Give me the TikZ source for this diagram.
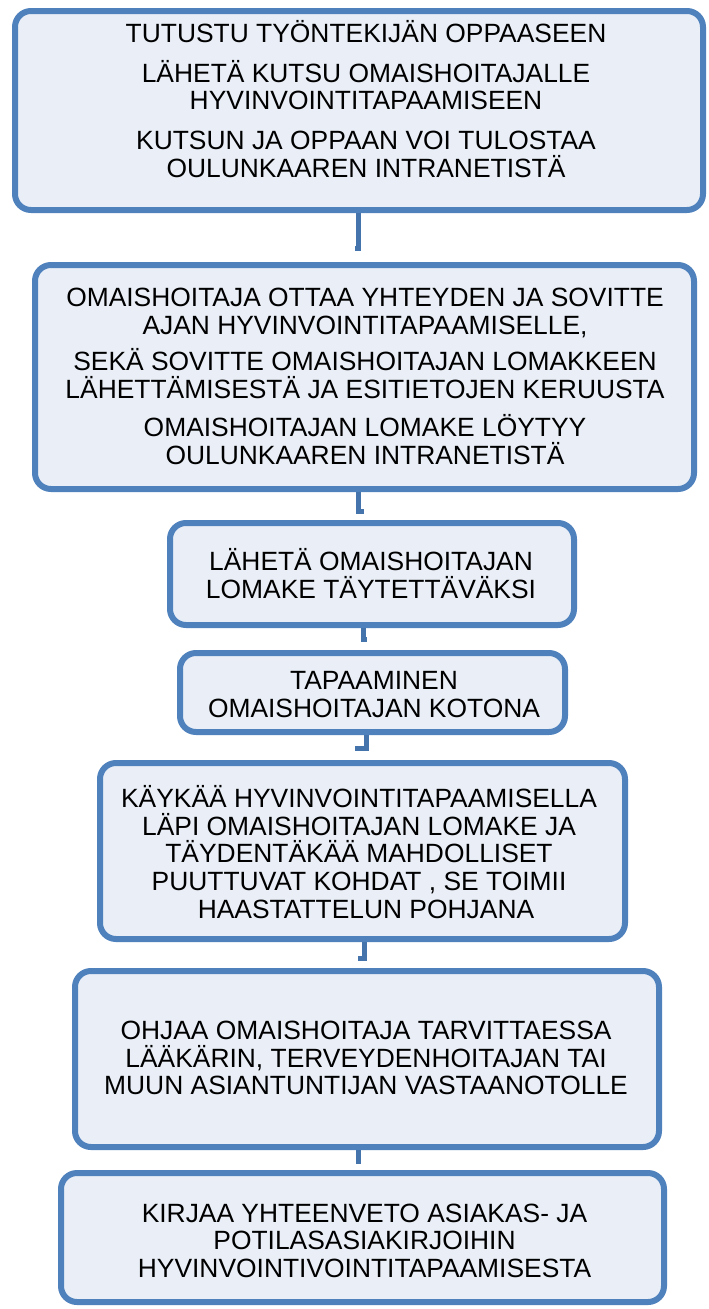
\documentclass[tikz,border=0pt]{standalone}
\usepackage{fontspec}
\setmainfont{Liberation Sans}
\usepackage{tikz}
\definecolor{boxblue}{HTML}{4F81BD}
\definecolor{boxfill}{HTML}{EAEFF7}
\definecolor{linkblue}{HTML}{4573AC}

\begin{document}
\begin{tikzpicture}[x=1pt, y=-1pt,
  box/.style={draw=boxblue, fill=boxfill, line width=6pt, rounded corners=16pt, inner sep=0pt},
  txt/.style={align=center, font=\fontsize{26.4}{27.6}\selectfont, inner sep=0pt},
  link/.style={draw=linkblue, line width=5pt}]
\useasboundingbox (0,0) rectangle (709,1309);

% ends of the short connectors
\coordinate (e1) at (358,248);
\coordinate (e2) at (358,511);
\coordinate (e3) at (363,639);
\coordinate (e4) at (366,748);
\coordinate (e5) at (364,958);
\coordinate (e6) at (358,1161);

\node[box, minimum width=688pt, minimum height=199pt] (b1) at (359,110.5) {};
\node[box, minimum width=659pt, minimum height=224pt] (b2) at (364.5,377) {};
\node[box, minimum width=404pt, minimum height=102pt] (b3) at (372,574) {};
\node[box, minimum width=385pt, minimum height=79pt]  (b4) at (372.5,692.5) {};
\node[box, minimum width=525pt, minimum height=176pt] (b5) at (362.5,851) {};
\node[box, minimum width=584pt, minimum height=176pt] (b6) at (367,1059) {};
\node[box, minimum width=603pt, minimum height=129pt] (b7) at (362.5,1237.5) {};

\draw[link] (b1.south -| e1) -- (e1) -- ++(-3,0);
\draw[link] (b2.south -| e2) -- (e2) -- ++(6,0);
\draw[link] (b3.south -| e3) -- (e3) -- ++(4,0);
\draw[link] (b4.south -| e4) -- (e4) -- ++(-11,0);
\draw[link] (b5.south -| e5) -- (e5) -- ++(-6,0);
\draw[link] (b6.south -| e6) -- (e6) -- ++(-2,0);

\node[txt] (t1) at (366,99) {TUTUSTU TYÖNTEKIJÄN OPPAASEEN\\[12pt]
  LÄHETÄ KUTSU OMAISHOITAJALLE\\ HYVINVOINTITAPAAMISEEN\\[12pt]
  KUTSUN JA OPPAAN VOI TULOSTAA\\ OULUNKAAREN INTRANETISTÄ};
\node[txt] (t2) at (365,376.5) {OMAISHOITAJA OTTAA YHTEYDEN JA SOVITTE\\ AJAN HYVINVOINTITAPAAMISELLE,\\[9pt]
  SEKÄ SOVITTE OMAISHOITAJAN LOMAKKEEN\\ LÄHETTÄMISESTÄ JA ESITIETOJEN KERUUSTA\\[11pt]
  OMAISHOITAJAN LOMAKE LÖYTYY\\ OULUNKAAREN INTRANETISTÄ};
\node[txt] (t3) at (371,573.5) {LÄHETÄ OMAISHOITAJAN\\ LOMAKE TÄYTETTÄVÄKSI};
\node[txt] (t4) at (374,694.5) {TAPAAMINEN\\ OMAISHOITAJAN KOTONA};
\node[txt] (t5) at (359,852) {KÄYKÄÄ HYVINVOINTITAPAAMISELLA\\ LÄPI OMAISHOITAJAN LOMAKE JA\\
  TÄYDENTÄKÄÄ MAHDOLLISET\\ PUUTTUVAT KOHDAT , SE TOIMII\\ \hspace*{14pt}HAASTATTELUN POHJANA};
\node[txt] (t6) at (366,1058) {OHJAA OMAISHOITAJA TARVITTAESSA\\ LÄÄKÄRIN, TERVEYDENHOITAJAN TAI\\
  MUUN ASIANTUNTIJAN VASTAANOTOLLE};
\node[txt] (t7) at (364.5,1240.5) {KIRJAA YHTEENVETO ASIAKAS- JA\\ POTILASASIAKIRJOIHIN\\
  HYVINVOINTIVOINTITAPAAMISESTA};
\end{tikzpicture}
\end{document}
